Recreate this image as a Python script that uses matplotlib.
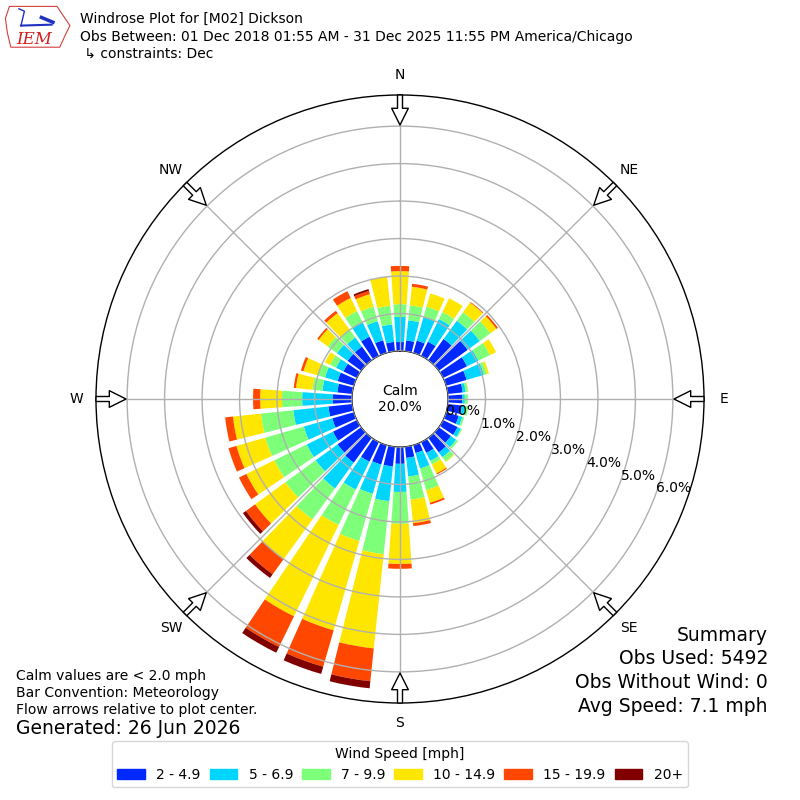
import numpy as np
import matplotlib
matplotlib.use("Agg")
import matplotlib.pyplot as plt
from matplotlib.patches import Patch, Polygon

# direction bins (deg, meteorological), 10 deg wide
directions = np.arange(0, 360, 10)

speed_labels = ["2 - 4.9", "5 - 6.9", "7 - 9.9", "10 - 14.9", "15 - 19.9", "20+"]

# percent of observations in each direction bin, per speed class
spd_2_5 = [0.24, 0.29, 0.34, 0.42, 0.70, 0.95, 0.71, 0.57, 0.40, 0.38, 0.38, 0.35,
           0.43, 0.40, 0.48, 0.32, 0.22, 0.30, 0.45, 0.53, 0.54, 0.58, 0.82, 0.78,
           0.71, 0.60, 0.64, 0.51, 0.40, 0.45, 0.40, 0.45, 0.45, 0.57, 0.35, 0.25]
spd_5_7 = [0.67, 0.54, 0.65, 0.67, 0.60, 0.40, 0.34, 0.48, 0.08, 0.07, 0.09, 0.10,
           0.10, 0.17, 0.16, 0.24, 0.43, 0.50, 0.75, 0.93, 0.81, 0.83, 0.85, 0.72,
           0.78, 0.79, 0.94, 0.82, 0.40, 0.35, 0.22, 0.35, 0.30, 0.42, 0.53, 0.47]
spd_7_10 = [0.34, 0.40, 0.29, 0.21, 0.28, 0.35, 0.34, 0.08, 0.06, 0.08, 0.08, 0.05,
            0.03, 0.06, 0.14, 0.10, 0.60, 0.62, 0.85, 1.42, 1.31, 1.05, 1.02, 1.00,
            0.96, 1.07, 0.87, 0.54, 0.27, 0.20, 0.18, 0.30, 0.25, 0.34, 0.40, 0.50]
spd_10_15 = [0.88, 0.50, 0.37, 0.41, 0.32, 0.20, 0.18, 0.06, 0.01, 0.00, 0.00, 0.00,
             0.00, 0.00, 0.02, 0.27, 0.35, 0.63, 1.07, 2.53, 2.48, 2.71, 1.31, 1.00,
             0.83, 0.80, 0.75, 0.58, 0.44, 0.40, 0.15, 0.30, 0.55, 0.39, 0.35, 0.78]
spd_15_20 = [0.14, 0.08, 0.00, 0.00, 0.02, 0.05, 0.00, 0.00, 0.00, 0.00, 0.00, 0.00,
             0.00, 0.00, 0.00, 0.03, 0.05, 0.08, 0.13, 0.88, 1.01, 0.91, 0.50, 0.30,
             0.22, 0.22, 0.21, 0.19, 0.06, 0.07, 0.00, 0.05, 0.08, 0.20, 0.09, 0.00]
spd_20up = [0.00, 0.00, 0.00, 0.00, 0.00, 0.00, 0.00, 0.00, 0.00, 0.00, 0.00, 0.00,
            0.00, 0.00, 0.00, 0.00, 0.00, 0.00, 0.00, 0.19, 0.20, 0.17, 0.12, 0.10,
            0.00, 0.00, 0.00, 0.00, 0.00, 0.00, 0.00, 0.00, 0.00, 0.00, 0.05, 0.00]

calm_pct = 20.0
ring_ticks = [0, 1, 2, 3, 4, 5, 6]
compass = ["N", "NE", "E", "SE", "S", "SW", "W", "NW"]

speed_bins = [spd_2_5, spd_5_7, spd_7_10, spd_10_15, spd_15_20, spd_20up]
colors = plt.cm.jet(np.linspace(1 / 6, 1, 6))

fig = plt.figure(figsize=(8, 8), dpi=100)
ax = fig.add_axes([0.12, 0.12125, 0.76, 0.76], projection="polar")
ax.set_theta_zero_location("N")
ax.set_theta_direction(-1)
ax.set_rorigin(-1.28)
ax.set_ylim(0, 6.83)

theta = np.radians(directions)
bottom = np.zeros(len(directions))
for vals, color in zip(speed_bins, colors):
    vals = np.array(vals)
    ax.bar(theta, vals, width=np.radians(8), bottom=bottom, color=color,
           linewidth=0, zorder=1)
    bottom += vals

ax.set_axisbelow(False)
ax.set_rticks(ring_ticks)
ax.set_yticklabels([])
ax.set_xticks(np.radians(np.arange(0, 360, 45)))
ax.set_xticklabels([])
ax.grid(True, color="#b0b0b0", lw=1)
ax.spines["polar"].set_linewidth(1)

ax.text(0.5, 0.5, f"Calm\n{calm_pct:.1f}%", transform=ax.transAxes,
        ha="center", va="center", fontsize=10, zorder=6)

for v in ring_ticks:
    ax.text(np.radians(110), v, f"{v:.1f}%", ha="left", va="baseline",
            fontsize=10, zorder=6)

for ang, name in zip(range(0, 360, 45), compass):
    ax.text(np.radians(ang), 7.36, name, ha="center", va="center", fontsize=10,
            clip_on=False)
    ax.annotate("", xy=(np.radians(ang), 6.03), xytext=(np.radians(ang), 6.83),
                arrowprops=dict(arrowstyle="simple,head_length=1.2,head_width=1.2,tail_width=0.36",
                                fc="white", ec="black", lw=1, shrinkA=0, shrinkB=0),
                annotation_clip=False, zorder=7)

# header
fig.text(0.1, 0.976, "Windrose Plot for [M02] Dickson", fontsize=10, va="center")
fig.text(0.1, 0.954, "Obs Between: 01 Dec 2018 01:55 AM - 31 Dec 2025 11:55 PM America/Chicago",
         fontsize=10, va="center")
fig.text(0.1, 0.9325, " \u21b3 constraints: Dec", fontsize=10, va="center")

# logo
lax = fig.add_axes([0.005, 0.935, 0.085, 0.06])
lax.set_xlim(0, 1)
lax.set_ylim(0, 1)
lax.axis("off")
lax.add_patch(Polygon([[0.08, 0.95], [0.78, 0.95], [0.85, 0.8], [0.97, 0.55],
                       [0.9, 0.35], [0.82, 0.1], [0.1, 0.1], [0.05, 0.4],
                       [0.02, 0.7]], closed=True, fill=False, ec="#d04040", lw=0.8))
lax.plot([0.25, 0.7], [0.55, 0.57], color="#2030c0", lw=1.5)
lax.plot([0.25, 0.3, 0.22], [0.55, 0.85, 0.9], color="#2030c0", lw=1)
lax.plot([0.55, 0.72], [0.72, 0.62], color="#2030c0", lw=2.5)
lax.text(0.45, 0.25, "IEM", color="#d02020", fontsize=12, family="DejaVu Serif",
         style="italic", ha="center", va="center")

# footnotes
fig.text(0.02, 0.155, "Calm values are < 2.0 mph", fontsize=10, va="center")
fig.text(0.02, 0.134, "Bar Convention: Meteorology", fontsize=10, va="center")
fig.text(0.02, 0.1125, "Flow arrows relative to plot center.", fontsize=10, va="center")
fig.text(0.02, 0.089, "Generated: 26 Jun 2026", fontsize=13.5, va="center")

summary = ["Summary", "Obs Used: 5492", "Obs Without Wind: 0", "Avg Speed: 7.1 mph"]
for i, line in enumerate(summary):
    fig.text(0.96, 0.206 - i * 0.0295, line, fontsize=13.5, ha="right", va="center")

handles = [Patch(color=c) for c in colors]
fig.legend(handles, speed_labels, ncol=6, loc="lower center",
           bbox_to_anchor=(0.5, 0.007), title="Wind Speed [mph]", fontsize=10,
           title_fontsize=10, columnspacing=0.65)

fig.savefig("out.png", dpi=100)
